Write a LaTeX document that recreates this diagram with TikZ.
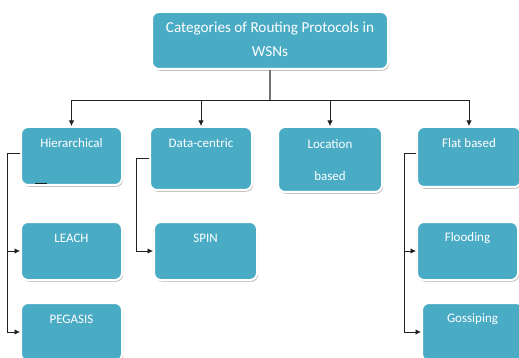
\documentclass[tikz,border=0pt]{standalone}
\usepackage{fontspec}
\setmainfont{Carlito}
\usetikzlibrary{shadows,arrows.meta}
\definecolor{boxteal}{HTML}{4AABC5}
\definecolor{wire}{HTML}{202020}
\tikzset{
  box/.style={draw=white, line width=2pt, fill=boxteal, rounded corners=7pt,
    minimum width=#1, inner sep=0pt,
    drop shadow={shadow xshift=1.2pt, shadow yshift=-1.8pt, fill=black!45, opacity=0.5}},
  box/.default=101pt,
  lbl/.style={text=white, font=\fontsize{13}{15}\selectfont, inner sep=0pt},
  titlelbl/.style={lbl, font=\fontsize{15.2}{18}\selectfont},
  wireline/.style={draw=wire, line width=0.8pt},
  arr/.style={wireline, -{Latex[length=5.5pt,width=5.5pt]}}
}
\begin{document}
\begin{tikzpicture}[x=1pt, y=-1pt]
  \useasboundingbox (0,0) rectangle (519,358);
  \fill[white] (0,0) rectangle (519,358);
  \clip (0,0) rectangle (519,358);

  % root box
  \node[box=236pt, minimum height=57pt] (top) at (270,40.5) {};
  \node[titlelbl] (topt1) at ([yshift=-18pt]top.north) {Categories of Routing Protocols in};
  \node[titlelbl] (topt2) at ([yshift=-41pt]top.north) {WSNs};

  % first level
  \node[box=101pt, minimum height=58pt] (hier) at (71.5,156) {};
  \node[box=102pt, minimum height=63pt] (data) at (201,158.5) {};
  \node[box=104pt, minimum height=65pt] (loc) at (330,159.5) {};
  \node[box=104pt, minimum height=60pt] (flat) at (469,157) {};

  \node[lbl] (hiert) at ([yshift=-17pt]hier.north) {Hierarchical};
  \node[lbl] (datat) at ([yshift=-17pt]data.north) {Data-centric};
  \node[lbl] (loct1) at ([yshift=-18pt]loc.north) {Location};
  \node[lbl] (loct2) at ([yshift=-50pt]loc.north) {based};
  \node[lbl] (flatt) at ([yshift=-17pt]flat.north) {Flat based};

  % second level
  \node[box=101pt, minimum height=58pt] (leach) at (71.5,251) {};
  \node[box=101pt, minimum height=58pt] (peg) at (71.5,332) {};
  \node[box=103pt, minimum height=58pt] (spin) at (205.5,251) {};
  \node[box=101pt, minimum height=58pt] (flood) at (467.5,251) {};
  \node[box=101pt, minimum height=58pt] (goss) at (472.5,332) {};

  \node[lbl] (leacht) at ([yshift=-17pt]leach.north) {LEACH};
  \node[lbl] (pegt) at ([yshift=-17pt]peg.north) {PEGASIS};
  \node[lbl] (spint) at ([yshift=-17pt]spin.north) {SPIN};
  \node[lbl] (floodt) at ([yshift=-17pt]flood.north) {Flooding};
  \node[lbl] (gosst) at ([yshift=-17pt]goss.north) {Gossiping};

  % root to first level
  \coordinate (bus) at ([yshift=-30pt]top.south);
  \draw[wireline, draw=black!55, line width=1.2pt] (top.south) -- (bus);
  \draw[wireline] (hier.north |- bus) -- (flat.north |- bus);
  \foreach \b in {hier,data,loc,flat}
    \draw[arr] (\b.north |- bus) -- (\b.north);

  % first level to second level
  \draw[arr] ([yshift=3pt]hier.west) -- ++(-13,0) |- (leach.west);
  \draw[arr] ([yshift=3pt]hier.west) -- ++(-13,0) |- (peg.west);
  \draw[arr] (data.west) -- ++(-13,0) |- (spin.west);
  \draw[arr] ([yshift=4pt]flat.west) -- ++(-12,0) |- (flood.west);
  \draw[arr] ([yshift=4pt]flat.west) -- ++(-12,0) |- (goss.west);

  % short mark under the Hierarchical label
  \draw[wireline] (35,183) -- (47,183);
\end{tikzpicture}
\end{document}
